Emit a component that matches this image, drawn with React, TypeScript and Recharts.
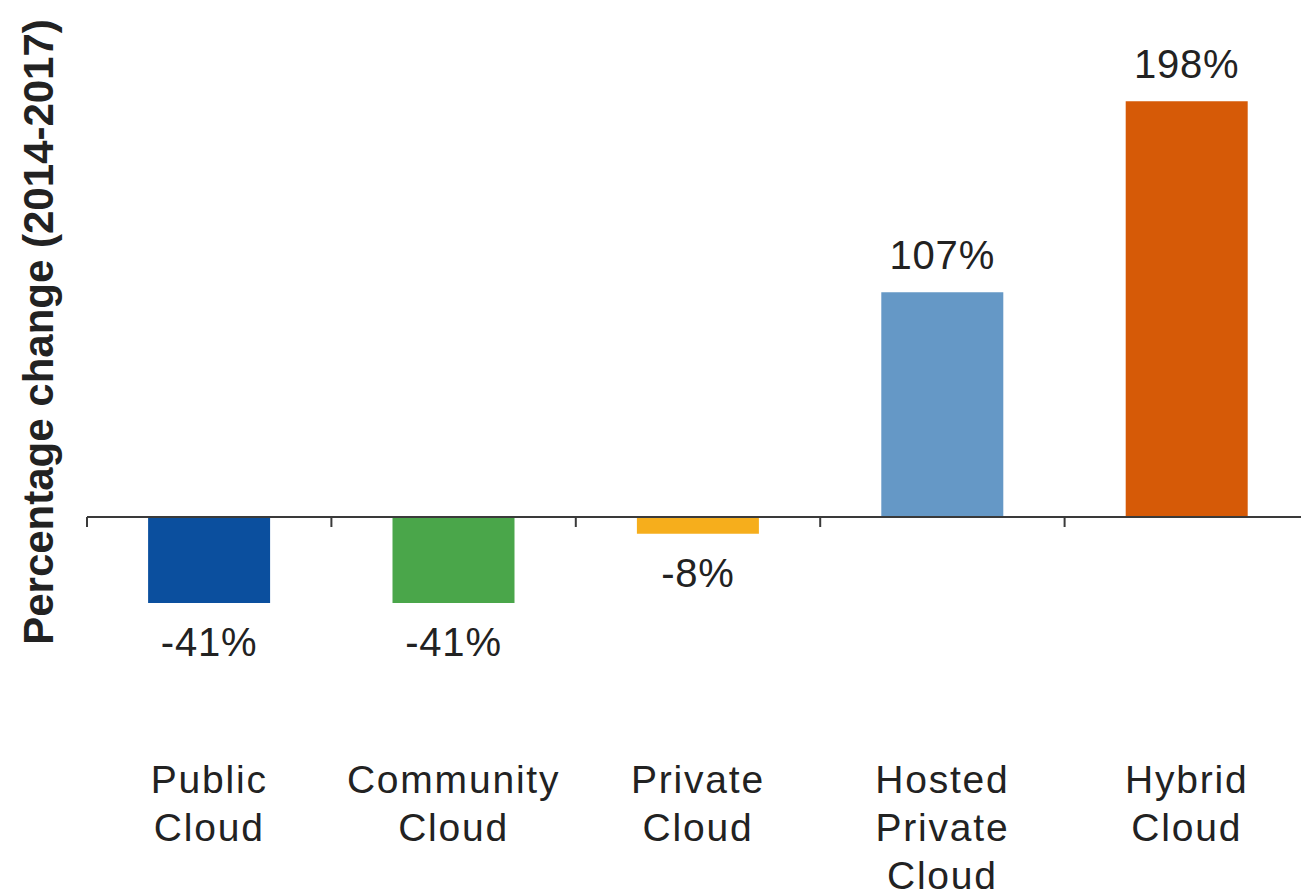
import React from 'react';
import { BarChart, Bar, XAxis, YAxis, ReferenceLine, LabelList, Label, Cell } from 'recharts';

const categories = ['Public Cloud', 'Community Cloud', 'Private Cloud', 'Hosted Private Cloud', 'Hybrid Cloud'];
const changes = [-41, -41, -8, 107, 198];
const barColors = ['#0b4f9e', '#4aa64a', '#f6ae1c', '#6598c6', '#d65a07'];
// line breaks of the category labels as in the source
const labelLines = [['Public', 'Cloud'], ['Community', 'Cloud'], ['Private', 'Cloud'], ['Hosted', 'Private', 'Cloud'], ['Hybrid', 'Cloud']];

const FONT = '"Liberation Sans", Arial, sans-serif';
const TEXT = '#222';

const chartData = categories.map((name, i) => ({ name, value: changes[i], idx: i }));

const CategoryTick = (props: any) => {
    const { x, y, index } = props;
    const lines = labelLines[index] || [];
    return (
        <text x={x} y={y} textAnchor="middle" fill={TEXT} fontFamily={FONT} fontSize={39} letterSpacing={1.8}>
            {lines.map((l, i) => (
                <tspan key={i} x={x} y={y + 66 + i * 48}>{l}</tspan>
            ))}
        </text>
    );
};

const ValueLabel = (props: any) => {
    const { x, y, width, height, value } = props;
    const top = Math.min(y, y + height);
    const bottom = Math.max(y, y + height);
    const ty = value >= 0 ? top - 23 : bottom + 53;
    return (
        <text x={x + width / 2} y={ty} textAnchor="middle" fill={TEXT} fontFamily={FONT} fontSize={40} letterSpacing={0.8}>
            {`${value}%`}
        </text>
    );
};

// zero line with tick marks at the category boundaries
const ZeroAxis = (props: any) => {
    const { x1, x2, y1 } = props;
    const n = categories.length;
    const step = (x2 - x1) / n;
    return (
        <g>
            <line x1={x1} y1={y1} x2={x2} y2={y1} stroke="#3a3a3a" strokeWidth={2} />
            {Array.from({ length: n + 1 }).map((_, i) => (
                <line key={i} x1={x1 + i * step} y1={y1} x2={x1 + i * step} y2={y1 + 10} stroke="#3a3a3a" strokeWidth={2} />
            ))}
        </g>
    );
};

export default function App() {
    return (
        <div style={{ position: 'absolute', left: 0, top: 0, width: 1301, height: 896, background: '#fff' }}>
            <BarChart
                width={1301}
                height={896}
                data={chartData}
                margin={{ top: 55, right: -8, bottom: 0, left: 0 }}
                barCategoryGap="25%"
            >
                <XAxis
                    dataKey="name"
                    axisLine={false}
                    tickLine={false}
                    tickSize={0}
                    tickMargin={0}
                    height={169}
                    interval={0}
                    tick={<CategoryTick />}
                />
                <YAxis
                    width={87}
                    domain={[-100, 220]}
                    axisLine={false}
                    tickLine={false}
                    tick={false}
                >
                    <Label
                        content={() => (
                            <text
                                x={38}
                                y={332}
                                transform="rotate(-90, 38, 332)"
                                textAnchor="middle"
                                dominantBaseline="central"
                                fill={TEXT}
                                fontFamily={FONT}
                                fontSize={42}
                                fontWeight="bold"
                            >
                                Percentage change (2014-2017)
                            </text>
                        )}
                    />
                </YAxis>
                <Bar dataKey="value" isAnimationActive={false}>
                    {chartData.map((d) => (
                        <Cell key={d.name} fill={barColors[d.idx]} />
                    ))}
                    <LabelList dataKey="value" content={<ValueLabel />} />
                </Bar>
                <ReferenceLine y={0} shape={<ZeroAxis />} />
            </BarChart>
        </div>
    );
}
